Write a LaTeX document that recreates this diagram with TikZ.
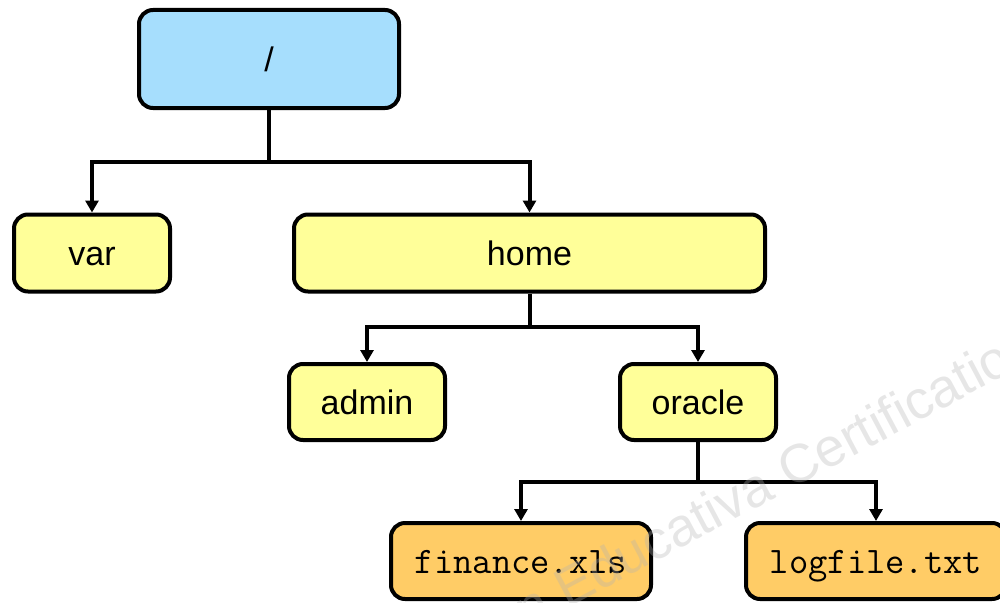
\documentclass[tikz,border=0pt]{standalone}
\usepackage{fontspec}
\setmainfont{Liberation Sans}
\usetikzlibrary{arrows.meta,calc}
\definecolor{rootblue}{HTML}{A6DEFD}
\definecolor{diryellow}{HTML}{FFFF99}
\definecolor{fileorange}{HTML}{FFCC66}
\begin{document}
\begin{tikzpicture}[x=1pt,y=-1pt,
  box/.style={draw=black,line width=4pt,rounded corners=14pt,inner sep=0pt,
    text height=30pt,text depth=6pt,
    font=\fontsize{34}{40}\selectfont},
  rootbox/.style={box,fill=rootblue,minimum width=260pt,minimum height=98pt},
  dirbox/.style={box,fill=diryellow,minimum height=77pt},
  filebox/.style={box,fill=fileorange,minimum width=260pt,minimum height=76pt,
    font=\ttfamily\fontsize{37.5}{40}\selectfont},
  link/.style={line width=4pt,draw=black},
  arr/.style={link,-{Triangle[width=13pt,length=12pt]}},
  wmark/.style={text=gray!60,opacity=0.32,font=\fontsize{54}{60}\selectfont}
]
\useasboundingbox (0,0) rectangle (1000,602);
\begin{scope}
\clip (0,0) rectangle (1000,602);
\node[rootbox] (root) at (269,59) {/};
\node[dirbox,minimum width=156pt] (var) at (92,253) {var};
\node[dirbox,minimum width=471pt] (home) at (529.5,253) {home};
\node[dirbox,minimum width=156pt,minimum height=76pt] (admin) at (367,402) {admin};
\node[dirbox,minimum width=156pt,minimum height=76pt] (oracle) at (698,402) {oracle};
\node[filebox] (finance) at (521,561) {finance.xls};
\node[filebox] (logfile) at (876,561) {logfile.txt};

\coordinate (j1) at (269,162);
\coordinate (j2) at (529.5,327);
\coordinate (j3) at (698,482);

\draw[link] (root.south) -- (j1);
\draw[arr] (j1) -| (var.north);
\draw[arr] (j1) -| (home.north);
\draw[link] (home.south) -- (j2);
\draw[arr] (j2) -| (admin.north);
\draw[arr] (j2) -| (oracle.north);
\draw[link] (oracle.south) -- (j3);
\draw[arr] (j3) -| (finance.north);
\draw[arr] (j3) -| (logfile.north);

\node[wmark,anchor=base west,rotate=28,inner sep=0pt] (wm) at (790,490)
  {\llap{ion Educativa\ }Certification};
\end{scope}
\end{tikzpicture}
\end{document}
